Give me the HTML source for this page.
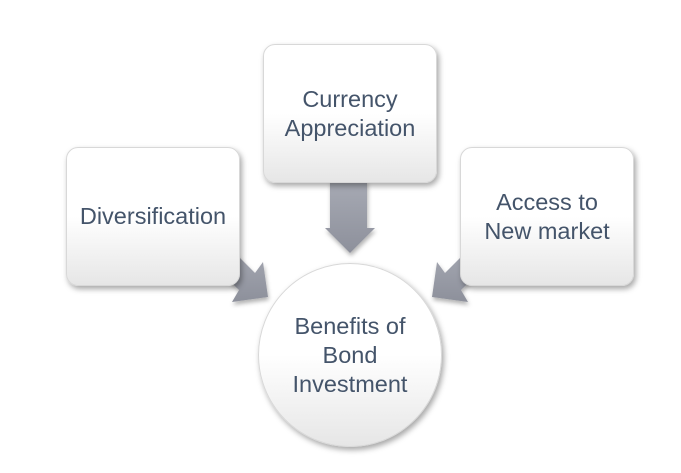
<!DOCTYPE html>
<html><head><style>
body{margin:0;width:681px;height:473px;background:#fff;position:relative;overflow:hidden;font-family:"Liberation Sans",sans-serif;}
.b{position:absolute;border-radius:12px;background:linear-gradient(#fff 0%,#fff 50%,#e6e6e6 100%);box-shadow:2px 3px 6px rgba(0,0,0,0.35);border:1px solid #d8d8d8;box-sizing:border-box;display:flex;align-items:center;justify-content:center;text-align:center;color:#44546a;font-size:23.5px;line-height:29px;}
.c{border-radius:50%;}
svg{position:absolute;left:0;top:0;}
</style></head><body>
<svg width="681" height="473">
<defs><linearGradient id="g" x1="0" y1="0" x2="0" y2="1"><stop offset="0" stop-color="#a7aab4"/><stop offset="1" stop-color="#8d909b"/></linearGradient>
<filter id="s"><feDropShadow dx="1" dy="3" stdDeviation="2" flood-opacity="0.3"/></filter></defs>
<g filter="url(#s)" fill="url(#g)">
<polygon points="330,180 367,180 367,228 375,228 350,253 325,228 330,228"/>
<polygon points="210,262 227,245 255,273 263,262 268,297 232,302 239,290"/>
<polygon points="490,262 473,245 445,273 437,262 432,297 468,302 461,290"/>
</g>
</svg>
<div class="b" style="left:263px;top:44px;width:174px;height:139px;">Currency<br>Appreciation</div>
<div class="b" style="left:66px;top:147px;width:174px;height:139px;">Diversification</div>
<div class="b" style="left:460px;top:147px;width:174px;height:139px;">Access to<br>New market</div>
<div class="b c" style="left:258px;top:263px;width:184px;height:184px;">Benefits of<br>Bond<br>Investment</div>
</body></html>
